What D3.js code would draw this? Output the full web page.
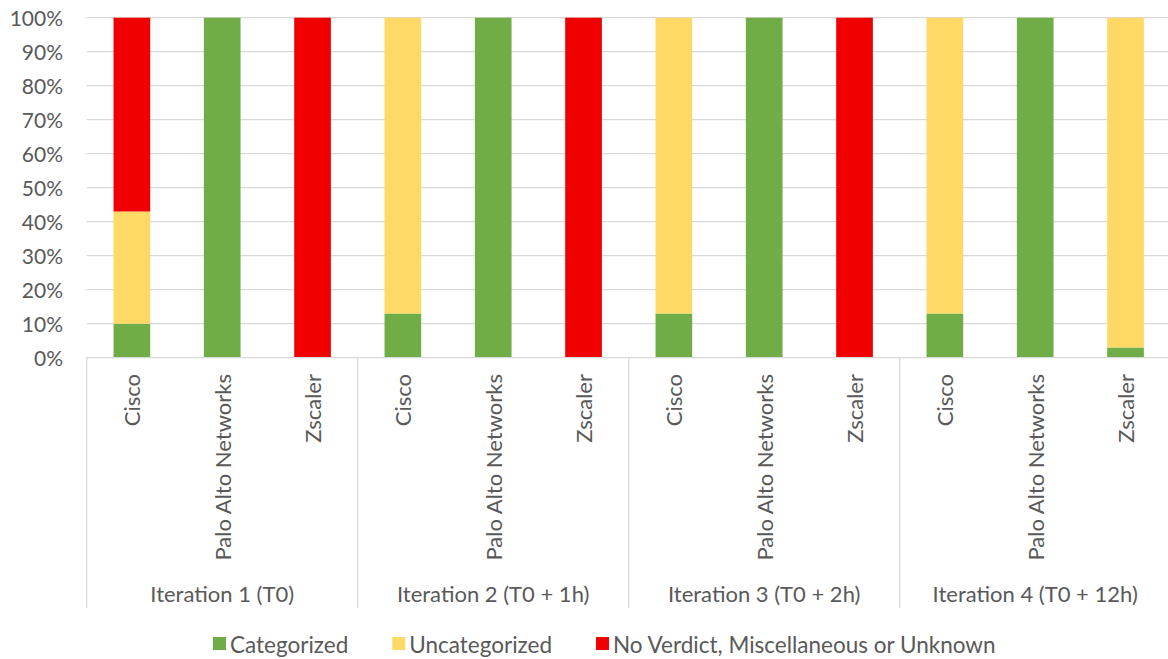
<!DOCTYPE html>
<html>
<head>
<meta charset="utf-8">
<script src="https://cdn.jsdelivr.net/npm/d3@7"></script>
<style>
  html, body { margin: 0; padding: 0; background: #fff; }
  svg { display: block; font-family: Lato, "Open Sans", sans-serif; }
</style>
</head>
<body>
<svg id="chart" width="1168" height="659"></svg>
<script>
const iterations = ["Iteration 1 (T0)", "Iteration 2 (T0 + 1h)", "Iteration 3 (T0 + 2h)", "Iteration 4 (T0 + 12h)"];
const vendors = ["Cisco", "Palo Alto Networks", "Zscaler"];
const seriesNames = ["Categorized", "Uncategorized", "No Verdict, Miscellaneous or Unknown"];
const seriesColors = ["#70ad47", "#ffd966", "#f00000"];

// percent per iteration, per vendor order above
const categorized   = [[10, 100, 0], [13, 100, 0], [13, 100, 0], [13, 100, 3]];
const uncategorized = [[33, 0, 0],   [87, 0, 0],   [87, 0, 0],   [87, 0, 97]];
const noVerdict     = [[57, 0, 100], [0, 0, 100],  [0, 0, 100],  [0, 0, 0]];

const yTicks = d3.range(0, 101, 10);

const rows = [];
iterations.forEach((it, i) => {
  vendors.forEach((v, j) => {
    rows.push({ iteration: it, vendor: v,
      Categorized: categorized[i][j],
      Uncategorized: uncategorized[i][j],
      "No Verdict, Miscellaneous or Unknown": noVerdict[i][j] });
  });
});

const svg = d3.select("#chart");
const m = { left: 86.7, right: 1170.7, top: 17.7, bottom: 357.7, axisBottom: 608 };
const textColor = "#595959";
const gridColor = "#d9d9d9";

const x0 = d3.scaleBand().domain(iterations).range([m.left, m.right]).padding(0);
const x1 = d3.scaleBand().domain(vendors).range([0, x0.bandwidth()])
  .paddingInner(0.594).paddingOuter(0.297);
const y = d3.scaleLinear().domain([0, 100]).range([m.bottom, m.top]);

// gridlines
svg.append("g").selectAll("line").data(yTicks.filter(t => t > 0)).join("line")
  .attr("x1", m.left).attr("x2", 1168)
  .attr("y1", d => y(d)).attr("y2", d => y(d))
  .attr("stroke", gridColor).attr("stroke-width", 1.3);

// y labels
svg.append("g").selectAll("text").data(yTicks).join("text")
  .attr("x", 63).attr("y", d => y(d))
  .attr("text-anchor", "end").attr("dominant-baseline", "central")
  .attr("font-size", 21).attr("fill", textColor)
  .text(d => d + "%");

// stacked bars
const stack = d3.stack().keys(seriesNames);
const stacked = stack(rows);
const color = d3.scaleOrdinal().domain(seriesNames).range(seriesColors);

svg.append("g").selectAll("g").data(stacked).join("g")
  .attr("fill", d => color(d.key))
  .selectAll("rect").data(d => d).join("rect")
  .attr("x", d => x0(d.data.iteration) + x1(d.data.vendor))
  .attr("width", x1.bandwidth())
  .attr("y", d => y(d[1]))
  .attr("height", d => y(d[0]) - y(d[1]));

// category axis: baseline + group dividers
svg.append("line")
  .attr("x1", m.left).attr("x2", 1168)
  .attr("y1", m.bottom).attr("y2", m.bottom)
  .attr("stroke", gridColor).attr("stroke-width", 1.3);

const dividers = iterations.map(it => x0(it)).concat([m.right]);
svg.append("g").selectAll("line").data(dividers).join("line")
  .attr("x1", d => d).attr("x2", d => d)
  .attr("y1", m.bottom).attr("y2", m.axisBottom)
  .attr("stroke", gridColor).attr("stroke-width", 1.3);

// vendor labels (rotated)
svg.append("g").selectAll("text").data(rows).join("text")
  .attr("transform", d => `translate(${x0(d.iteration) + x1(d.vendor) + x1.bandwidth() / 2},374) rotate(-90)`)
  .attr("text-anchor", "end").attr("dominant-baseline", "central")
  .attr("font-size", 22).attr("fill", textColor)
  .text(d => d.vendor);

// iteration labels
svg.append("g").selectAll("text").data(iterations).join("text")
  .attr("x", d => x0(d) + x0.bandwidth() / 2).attr("y", 593)
  .attr("text-anchor", "middle").attr("dominant-baseline", "central")
  .attr("font-size", 22).attr("fill", textColor)
  .text(d => d);

// legend
const legend = svg.append("g");
let lx = 213;
seriesNames.forEach((name, i) => {
  legend.append("rect")
    .attr("x", lx).attr("y", 637).attr("width", 13).attr("height", 13)
    .attr("fill", seriesColors[i]);
  const t = legend.append("text")
    .attr("x", lx + 17).attr("y", 644)
    .attr("dominant-baseline", "central")
    .attr("font-size", 22.5).attr("fill", textColor)
    .text(name);
  lx += 17 + t.node().getComputedTextLength() + 44;
});
</script>
</body>
</html>
